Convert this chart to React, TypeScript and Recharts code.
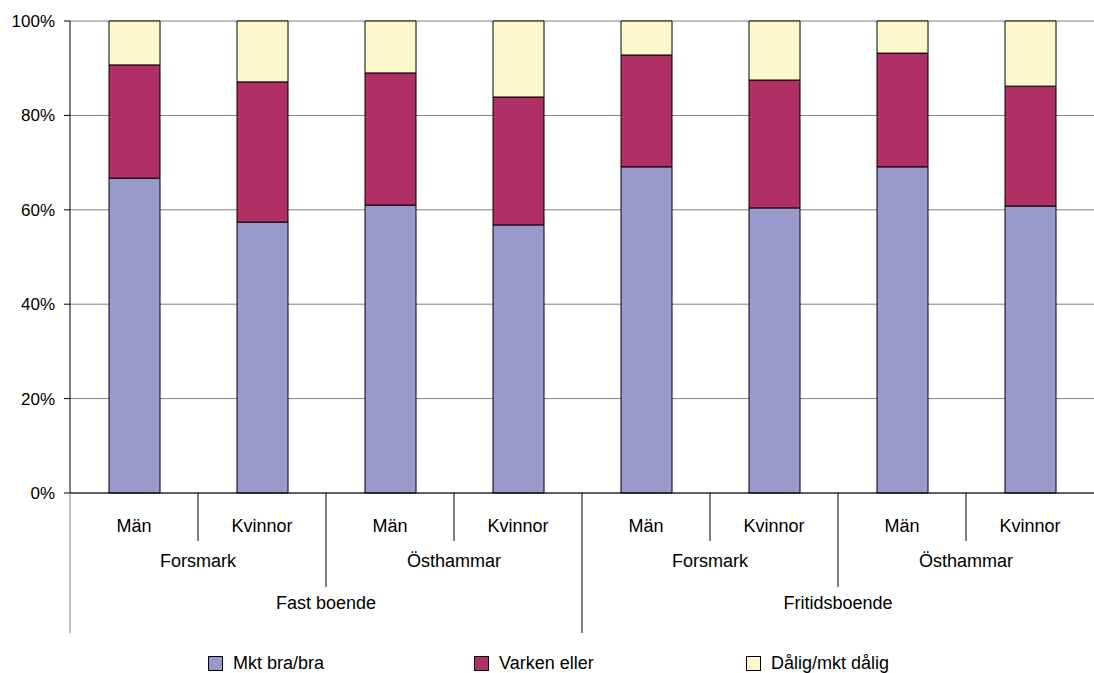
import React from "react";
import { BarChart, Bar, XAxis, YAxis, CartesianGrid, Legend } from "recharts";

const categories = ["Män", "Kvinnor", "Män", "Kvinnor", "Män", "Kvinnor", "Män", "Kvinnor"];
const level2Labels = ["Forsmark", "Östhammar", "Forsmark", "Östhammar"];
const level3Labels = ["Fast boende", "Fritidsboende"];
const mktBra = [66.7, 57.4, 61.0, 56.8, 69.1, 60.4, 69.1, 60.8];
const varken = [24.0, 29.7, 28.0, 27.1, 23.7, 27.1, 24.1, 25.4];
const dalig = [9.3, 12.9, 11.0, 16.1, 7.2, 12.5, 6.8, 13.8];
const yTicks = [0, 20, 40, 60, 80, 100];

const seriesNames = ["Mkt bra/bra", "Varken eller", "Dålig/mkt dålig"];
const seriesColors = ["#9999CC", "#B03066", "#FDF7CC"];

const data = categories.map((c, i) => ({
  name: c,
  idx: i,
  a: mktBra[i],
  b: varken[i],
  c: dalig[i],
}));

const FONT = "'Liberation Sans', Arial, sans-serif";

const XTick = (props: any) => {
  const { x, y, payload, width, visibleTicksCount } = props;
  const i = payload.index as number;
  const half = width / visibleTicksCount / 2;
  const right = x + half;
  const left = x - half;
  const els: React.ReactNode[] = [];
  els.push(
    <text key="l1" x={x} y={y + 34} textAnchor="middle" dominantBaseline="middle" fontSize={18} fontFamily={FONT} fill="#000">
      {categories[i]}
    </text>
  );
  if (i === 0) {
    els.push(<line key="left" x1={left} x2={left} y1={y} y2={y + 140} stroke="#808080" strokeWidth={1} />);
  }
  if (i < categories.length - 1) {
    let len = 48;
    if (i % 2 === 1) len = 94;
    if (i % 4 === 3) len = 140;
    els.push(<line key="sep" x1={right} x2={right} y1={y} y2={y + len} stroke="#000" strokeWidth={1} />);
  }
  if (i % 2 === 1) {
    els.push(
      <text key="l2" x={left} y={y + 69} textAnchor="middle" dominantBaseline="middle" fontSize={18} fontFamily={FONT} fill="#000">
        {level2Labels[(i - 1) / 2]}
      </text>
    );
  }
  if (i % 4 === 1) {
    els.push(
      <text key="l3" x={right} y={y + 111} textAnchor="middle" dominantBaseline="middle" fontSize={18} fontFamily={FONT} fill="#000">
        {level3Labels[(i - 1) / 4]}
      </text>
    );
  }
  return <g>{els}</g>;
};

const LegendContent = () => (
  <div style={{ height: 24, position: "relative", fontFamily: FONT, fontSize: 18 }}>
    {seriesNames.map((n, k) => (
      <div
        key={n}
        style={{
          position: "absolute",
          left: [208, 474, 746][k],
          top: 4,
          display: "flex",
          alignItems: "center",
          whiteSpace: "nowrap",
          lineHeight: "20px",
        }}
      >
        <span
          style={{
            display: "inline-block",
            width: 13,
            height: 13,
            background: seriesColors[k],
            border: "1px solid #000",
            marginRight: 10,
          }}
        />
        <span>{n}</span>
      </div>
    ))}
  </div>
);

export default function App() {
  return (
    <div style={{ position: "absolute", left: 0, top: 0 }}>
      <BarChart
        width={1094}
        height={673}
        data={data}
        margin={{ top: 21, right: 0, left: 0, bottom: 0 }}
        barSize={51}
      >
        <CartesianGrid vertical={false} stroke="#808080" strokeWidth={1} />
        <YAxis
          width={70}
          domain={[0, 100]}
          ticks={yTicks}
          tickFormatter={(v: number) => `${v}%`}
          tick={{ fontSize: 17, fontFamily: FONT, fill: "#000" }}
          tickSize={6}
          tickMargin={9}
          axisLine={{ stroke: "#000" }}
          tickLine={{ stroke: "#000" }}
          interval={0}
        />
        <XAxis
          dataKey="idx"
          height={156}
          interval={0}
          tickLine={false}
          tickSize={0}
          tickMargin={0}
          axisLine={{ stroke: "#000" }}
          tick={<XTick />}
        />
        <Legend verticalAlign="bottom" content={<LegendContent />} />
        <Bar dataKey="a" stackId="s" name={seriesNames[0]} fill={seriesColors[0]} stroke="#000" strokeWidth={1} isAnimationActive={false} />
        <Bar dataKey="b" stackId="s" name={seriesNames[1]} fill={seriesColors[1]} stroke="#000" strokeWidth={1} isAnimationActive={false} />
        <Bar dataKey="c" stackId="s" name={seriesNames[2]} fill={seriesColors[2]} stroke="#000" strokeWidth={1} isAnimationActive={false} />
      </BarChart>
    </div>
  );
}
